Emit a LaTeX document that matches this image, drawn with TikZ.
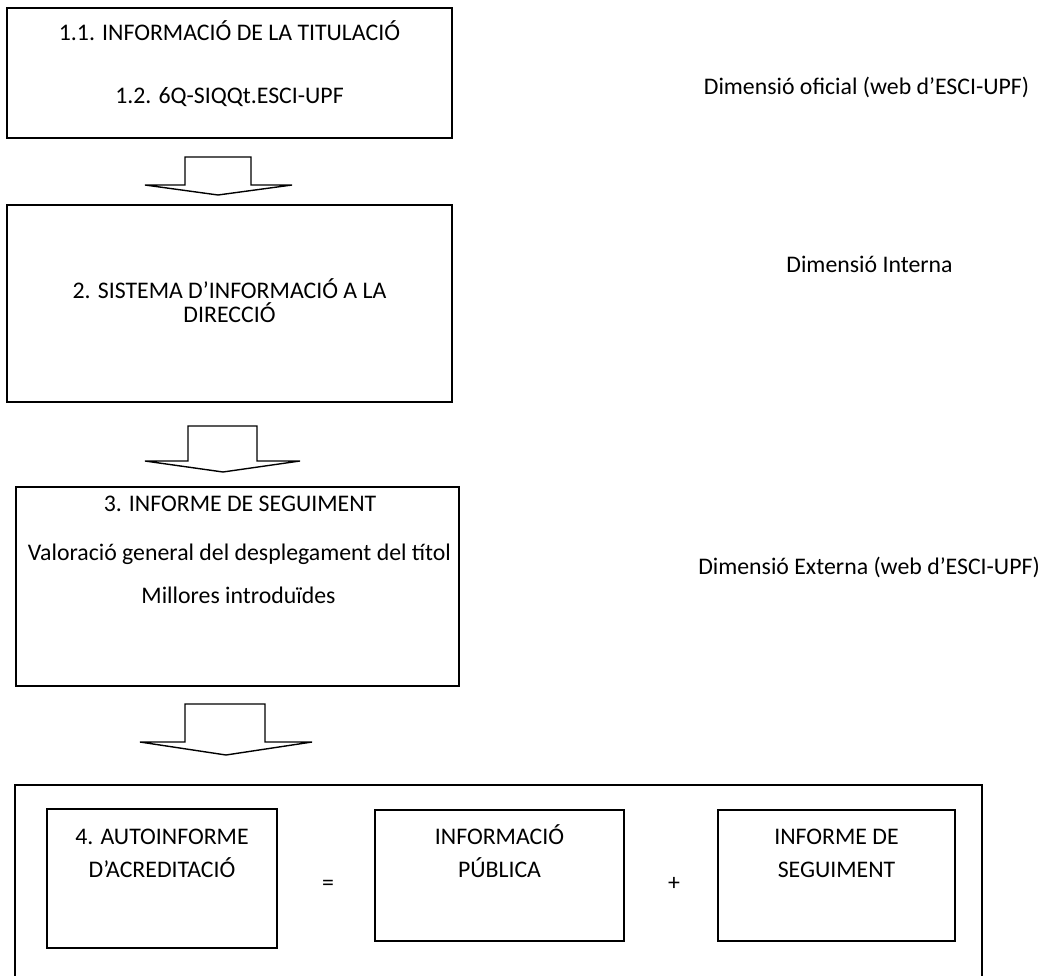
\documentclass[tikz,border=0pt]{standalone}
\usepackage{fontspec}
\setmainfont{Carlito}
\begin{document}
\begin{tikzpicture}[x=1pt,y=-1pt,
  box/.style={draw=black, line width=1.8pt, rectangle, inner sep=0pt, outer sep=0pt},
  ibox/.style={draw=black, line width=1.6pt, rectangle, inner sep=0pt, outer sep=0pt},
  txt/.style={inner sep=0pt, outer sep=0pt, anchor=base, font=\fontsize{23.8}{28}\selectfont},
  barrow/.style={draw=black, line width=1.4pt, fill=white, line join=miter}]
\useasboundingbox (0,0) rectangle (1052,976);
% boxes
\node[box, minimum width=445, minimum height=130] (b1) at (229.5,73) {};
\node[box, minimum width=445, minimum height=197] (b2) at (229.5,303.5) {};
\node[box, minimum width=443, minimum height=199] (b3) at (237.5,586.5) {};
\node[box, minimum width=967, minimum height=200] (b4) at (498.5,885) {};
\node[ibox, minimum width=230, minimum height=139] (ba) at (162,878.5) {};
\node[ibox, minimum width=249, minimum height=131] (bb) at (499.5,875.5) {};
\node[ibox, minimum width=237, minimum height=131] (bc) at (836.5,875.5) {};
% texts in boxes
\node[txt] (t11) at (229.5,40.7) {1.1. INFORMACIÓ DE LA TITULACIÓ};
\node[txt] (t12) at (229.5,104) {1.2. 6Q-SIQQt.ESCI-UPF};
\node[txt] (t21) at (229.5,299) {2. SISTEMA D’INFORMACIÓ A LA};
\node[txt] (t22) at (229.5,323) {DIRECCIÓ};
\node[txt] (t31) at (240,511.5) {3. INFORME DE SEGUIMENT};
\node[txt] (t32) at (239.5,560) {Valoració general del desplegament del títol};
\node[txt] (t33) at (238.5,603.5) {Millores introduïdes};
\node[txt] (ta1) at (162,844) {4. AUTOINFORME};
\node[txt] (ta2) at (162,877) {D’ACREDITACIÓ};
\node[txt] (tb1) at (499.5,844) {INFORMACIÓ};
\node[txt] (tb2) at (499.5,877) {PÚBLICA};
\node[txt] (tc1) at (836.5,844) {INFORME DE};
\node[txt] (tc2) at (836.5,877) {SEGUIMENT};
\node[txt] (eq) at (328,890) {=};
\node[txt] (pl) at (674,890) {+};
% side labels
\node[txt] (d1) at (866.5,95) {Dimensió oficial (web d’ESCI-UPF)};
\node[txt] (d2) at (869.5,273) {Dimensió Interna};
\node[txt] (d3) at (869,574) {Dimensió Externa (web d’ESCI-UPF)};
% block arrows
\draw[barrow] (185,157) -- (251,157) -- (251,185) -- (292,185) -- (218,195) -- (145,185) -- (185,185) -- cycle;
\draw[barrow] (188,426) -- (257,426) -- (257,461) -- (300,461) -- (223,472) -- (145,461) -- (188,461) -- cycle;
\draw[barrow] (185,704) -- (265,704) -- (265,742) -- (312,742) -- (226,755) -- (140,742) -- (185,742) -- cycle;
\end{tikzpicture}
\end{document}
